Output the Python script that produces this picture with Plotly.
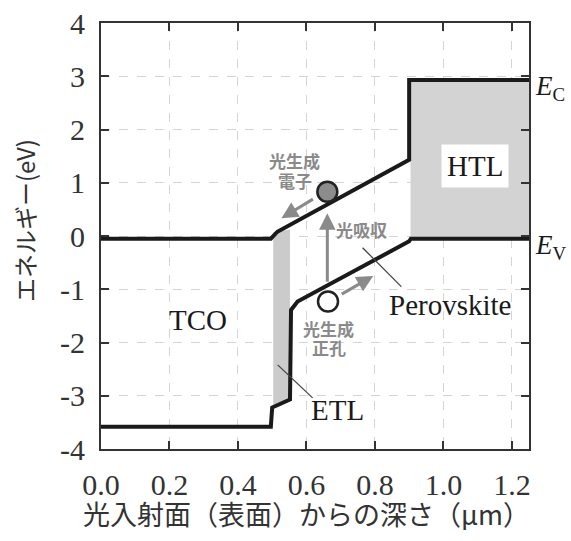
import plotly.graph_objects as go

# ---- data ----
ec_x = [0.0, 0.496, 0.515, 0.90, 0.90, 1.25]
ec_y = [-0.05, -0.05, 0.08, 1.43, 2.93, 2.93]

ev_x = [0.0, 0.496, 0.500, 0.552, 0.555, 0.574, 0.900, 0.905, 1.25]
ev_y = [-3.58, -3.58, -3.22, -3.07, -1.39, -1.23, -0.10, -0.05, -0.05]

htl_x = [0.904, 1.25, 1.25, 0.904]
htl_y = [-0.05, -0.05, 2.93, 2.93]

etl_x = [0.503, 0.552, 0.552, 0.503]
etl_y = [-3.20, -3.07, 0.12, 0.07]

electron_xy = (0.661, 0.83)
hole_xy = (0.663, -1.23)

x_ticks = [0.0, 0.2, 0.4, 0.6, 0.8, 1.0, 1.2]
x_ticktext = ["0.0", "0.2", "0.4", "0.6", "0.8", "1.0", "1.2"]
y_ticks = [-4, -3, -2, -1, 0, 1, 2, 3, 4]
y_ticktext = ["-4", "-3", "-2", "-1", "0", "1", "2", "3", "4"]

layer_labels = ["TCO", "Perovskite", "ETL", "HTL"]
layer_label_x = [0.282, 1.018, 0.690, 1.091]
layer_label_y = [-1.57, -1.30, -3.26, 1.32]

gray_labels = ["光生成", "電子", "光吸収", "光生成", "正孔"]
gray_label_x = [0.564, 0.566, 0.762, 0.664, 0.667]
gray_label_y = [1.41, 1.05, 0.12, -1.74, -2.10]

pointer_perov = ([0.764, 0.877], [-0.22, -0.95])
pointer_etl = ([0.516, 0.618], [-2.42, -3.04])

SERIF = "Liberation Serif"
CJK = "Noto Sans CJK JP"
GRAY = "#8a8a8a"
DARK = "#1a1a1a"

fig = go.Figure()

fig.add_trace(go.Scatter(x=htl_x, y=htl_y, fill="toself", fillcolor="#d3d3d3",
                         line=dict(width=0), mode="lines", hoverinfo="skip"))
fig.add_trace(go.Scatter(x=etl_x, y=etl_y, fill="toself", fillcolor="#cbcbcb",
                         line=dict(width=0), mode="lines", hoverinfo="skip"))

fig.add_trace(go.Scatter(x=ec_x, y=ec_y, mode="lines",
                         line=dict(color=DARK, width=4)))
fig.add_trace(go.Scatter(x=ev_x, y=ev_y, mode="lines",
                         line=dict(color=DARK, width=4)))

for xs, ys in (pointer_perov, pointer_etl):
    fig.add_trace(go.Scatter(x=xs, y=ys, mode="lines",
                             line=dict(color="#444444", width=1.3)))

fig.add_trace(go.Scatter(x=[electron_xy[0]], y=[electron_xy[1]], mode="markers",
                         marker=dict(size=20, color="#8c8c8c",
                                     line=dict(color="#222222", width=2.5))))
fig.add_trace(go.Scatter(x=[hole_xy[0]], y=[hole_xy[1]], mode="markers",
                         marker=dict(size=20, color="white",
                                     line=dict(color="#222222", width=2.5))))

ann = []
for t, x, y in zip(layer_labels, layer_label_x, layer_label_y):
    a = dict(x=x, y=y, xref="x", yref="y", text=t, showarrow=False,
             font=dict(family=SERIF, size=29, color="#1a1a1a"))
    if t == "HTL":
        a.update(bgcolor="white", borderpad=5)
    ann.append(a)

# band edge labels
ann.append(dict(x=1.25, y=2.93, xref="x", yref="y", xanchor="left", yanchor="middle",
                xshift=4, yshift=-8, showarrow=False,
                text="<i>E</i><sub>C</sub>",
                font=dict(family=SERIF, size=27, color="#1a1a1a")))
ann.append(dict(x=1.25, y=-0.05, xref="x", yref="y", xanchor="left", yanchor="middle",
                xshift=4, yshift=-8, showarrow=False,
                text="<i>E</i><sub>V</sub>",
                font=dict(family=SERIF, size=27, color="#1a1a1a")))

# gray text labels
for t, x, y in zip(gray_labels, gray_label_x, gray_label_y):
    ann.append(dict(x=x, y=y, xref="x", yref="y", text="<b>%s</b>" % t, showarrow=False,
                    font=dict(family=CJK, size=17, color=GRAY)))

# arrows (tip in data coords, tail offset in px)
arrows = [(0.527, 0.334, 33, -20), (0.661, 0.428, 0, 70), (0.795, -0.75, -33, 19)]
for x, y, ax, ay in arrows:
    ann.append(dict(x=x, y=y, xref="x", yref="y", ax=ax, ay=ay, text="",
                    showarrow=True, arrowhead=2, arrowsize=1.1, arrowwidth=3,
                    arrowcolor=GRAY))

# axis titles (positioned in paper coords of the 101..529 x 23..449 plot box)
ann.append(dict(x=(306 - 101) / 428, y=-(513 - 449) / 426, xref="paper", yref="paper",
                text="光入射面（表面）からの深さ（μm）", showarrow=False,
                xanchor="center", yanchor="middle",
                font=dict(family=CJK, size=27, color="#333333")))
ann.append(dict(x=-(101 - 24) / 428, y=(449 - 221) / 426, xref="paper", yref="paper",
                text="エネルギー(eV)", showarrow=False, textangle=-90,
                xanchor="center", yanchor="middle",
                font=dict(family=CJK, size=24, color="#333333")))

axis_common = dict(showline=True, linecolor="#333333", linewidth=2, mirror="ticks",
                   ticks="inside", ticklen=8, tickwidth=2, tickcolor="#333333",
                   showgrid=True, gridcolor="#d4d4d4", gridwidth=1, griddash="dash",
                   zeroline=False, automargin=False,
                   tickfont=dict(family=SERIF, size=30, color="#333333"))

fig.update_layout(
    width=571, height=541,
    margin=dict(l=101, r=42, t=23, b=92, autoexpand=False),
    paper_bgcolor="white", plot_bgcolor="white",
    showlegend=False,
    annotations=ann,
    xaxis=dict(range=[0, 1.25], tickvals=x_ticks, ticktext=x_ticktext,
               ticklabelstandoff=8, **axis_common),
    yaxis=dict(range=[-4, 4], tickvals=y_ticks, ticktext=y_ticktext,
               ticklabelstandoff=8, **axis_common),
)

fig.write_html("out.html", config={"displayModeBar": False},
               post_script="document.body.style.margin='0';")
